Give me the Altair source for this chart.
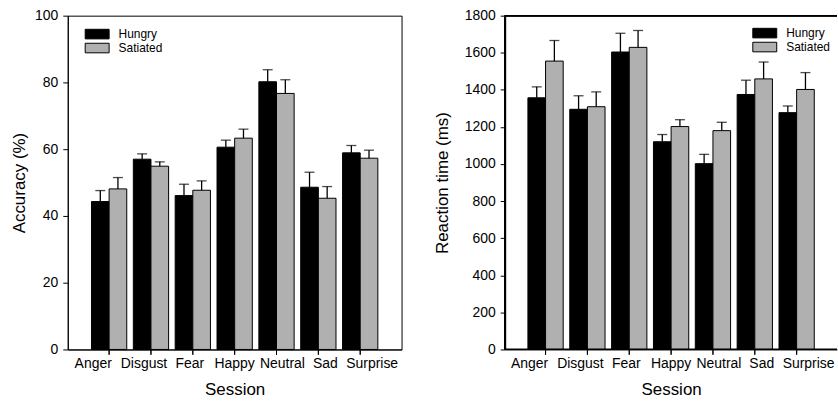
import altair as alt
import pandas as pd

emotions = ["Anger", "Disgust", "Fear", "Happy", "Neutral", "Sad", "Surprise"]
groups = ["Hungry", "Satiated"]

acc_hungry = [44.3, 57.0, 46.1, 60.6, 80.2, 48.6, 58.9]
acc_hungry_err = [3.3, 1.6, 3.4, 2.1, 3.6, 4.5, 2.2]
acc_sat = [48.1, 54.9, 47.7, 63.3, 76.7, 45.3, 57.3]
acc_sat_err = [3.4, 1.3, 2.8, 2.7, 4.1, 3.5, 2.4]

rt_hungry = [1357, 1295, 1604, 1120, 1002, 1375, 1277]
rt_hungry_err = [59, 73, 101, 39, 50, 77, 36]
rt_sat = [1555, 1309, 1629, 1202, 1180, 1459, 1402]
rt_sat_err = [111, 80, 91, 37, 45, 91, 91]

acc_ticks = [0, 20, 40, 60, 80, 100]
rt_ticks = [0, 200, 400, 600, 800, 1000, 1200, 1400, 1600, 1800]

# horizontal nudge of each category label relative to its tick (labels spread as in source figure)
label_nudge = [-16, -7, -3, 0, 6, 7, 12]


def make_df(h, he, s, se):
    rows = []
    for i, e in enumerate(emotions):
        rows.append({"emotion": e, "group": "Hungry", "value": h[i], "upper": h[i] + he[i]})
        rows.append({"emotion": e, "group": "Satiated", "value": s[i], "upper": s[i] + se[i]})
    return pd.DataFrame(rows)


acc_df = make_df(acc_hungry, acc_hungry_err, acc_sat, acc_sat_err)
rt_df = make_df(rt_hungry, rt_hungry_err, rt_sat, rt_sat_err)
cat_df = pd.DataFrame({"emotion": emotions})

FONT = "Liberation Sans"
RECT = "M-2,-0.8H2V0.8H-2Z"
H = 335

nudge_expr = "[{}][indexof([{}], datum.value)]".format(
    ",".join(str(v) for v in label_nudge), ",".join("'%s'" % e for e in emotions))


def panel(df, ytitle, ymax, ticks, width, pad_outer, legend_x, legend_y, title_pad):
    xaxis = alt.Axis(labelAngle=0, titlePadding=11, labelPadding=2, ticks=True, tickSize=5,
                     tickColor="black", tickWidth=1, tickOpacity=1, tickBand="center",
                     domain=True, domainColor="black", domainWidth=1, domainOpacity=1,
                     labelOverlap=False, zindex=1, labelOffset=alt.ExprRef(nudge_expr))
    yaxis = alt.Axis(values=ticks, tickCount=len(ticks) + 1, format="d", labelOverlap=False,
                     ticks=True, tickSize=5, tickColor="black", tickWidth=1,
                     domain=True, domainColor="black", domainWidth=1, zindex=1,
                     titlePadding=title_pad, labelPadding=5)
    xscale = alt.Scale(paddingInner=0.157, paddingOuter=pad_outer)
    x = alt.X("emotion:N", sort=emotions, title="Session", scale=xscale, axis=xaxis)
    xo = alt.XOffset("group:N", sort=groups, scale=alt.Scale(paddingInner=0, paddingOuter=0))
    yscale = alt.Scale(domain=[0, ymax], nice=False, zero=True)
    y = alt.Y("value:Q", title=ytitle, scale=yscale, axis=yaxis)
    color = alt.Color("group:N", sort=groups,
                      scale=alt.Scale(domain=groups, range=["#000000", "#b0b0b0"]),
                      legend=alt.Legend(title=None, orient="none", legendX=legend_x, legendY=legend_y,
                                        symbolType=RECT, symbolSize=144, symbolStrokeColor="black",
                                        symbolStrokeWidth=1, labelFont=FONT, labelFontSize=12,
                                        labelOffset=15, rowPadding=-4, padding=0, labelColor="black"))
    bars = alt.Chart(df).mark_bar(stroke="black", strokeWidth=1).encode(x=x, xOffset=xo, y=y, color=color)
    rules = alt.Chart(df).mark_rule(color="black", strokeWidth=1.3).encode(
        x=x, xOffset=xo, y=alt.Y("value:Q", title=ytitle, scale=yscale, axis=yaxis), y2="upper:Q")
    caps = alt.Chart(df).mark_tick(color="black", size=10, thickness=1.3).encode(
        x=x, xOffset=xo, y=alt.Y("upper:Q", title=ytitle, scale=yscale, axis=yaxis))
    # category tick marks below the x axis line
    cat_ticks = alt.Chart(cat_df).mark_rule(color="black", strokeWidth=1).encode(
        x=x, y=alt.value(H), y2=alt.value(H + 5))
    return alt.layer(bars, rules, caps, cat_ticks).properties(width=width, height=H)


left = panel(acc_df, "Accuracy (%)", 100, acc_ticks, 335, 0.567, 23, 12, 6)
left = left.properties(view=alt.ViewBackground(stroke="black", strokeWidth=1))

right_base = panel(rt_df, "Reaction time (ms)", 1800, rt_ticks, 333, 0.543, 254, 11, 13)
frame = alt.Chart(rt_df).mark_rule(color="black", strokeWidth=1)
top_line = frame.encode(y=alt.value(0), x=alt.value(0), x2=alt.value(333))
left_line = frame.encode(x=alt.value(0), y=alt.value(0), y2=alt.value(H))
bottom_line = frame.encode(y=alt.value(H), x=alt.value(0), x2=alt.value(333))
right = alt.layer(right_base, top_line, left_line, bottom_line).properties(width=333, height=H)

chart = alt.hconcat(left, right, spacing=104, bounds="flush").resolve_legend(
    color="independent"
).properties(
    padding={"left": 10, "top": 7, "right": 0, "bottom": 0},
).configure_view(stroke=None).configure_axis(
    labelFont=FONT, titleFont=FONT, labelFontSize=14, titleFontSize=17,
    titleFontWeight="normal", labelColor="black", titleColor="black",
    domainColor="black", tickColor="black", tickSize=5, grid=False,
)

chart.save("out.html", embed_options={"renderer": "svg", "actions": False})
